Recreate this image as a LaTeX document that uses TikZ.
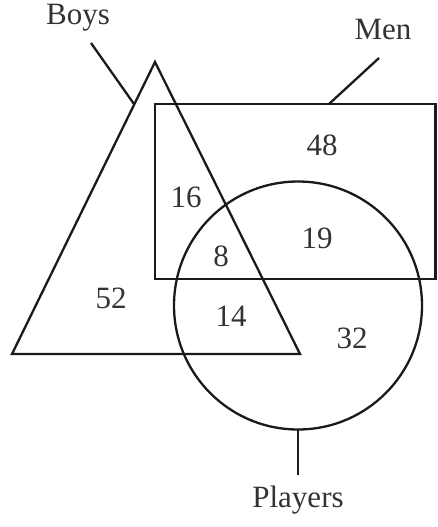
\documentclass[tikz,border=0pt]{standalone}
\usepackage{fontspec}
\setmainfont{Liberation Serif}
\usetikzlibrary{positioning,calc}
\definecolor{Ink}{HTML}{1A1A1A}
\definecolor{Label}{HTML}{333333}

\begin{document}
\begin{tikzpicture}[x=1pt, y=-1pt,
  setline/.style={Ink, line width=2.3pt, line join=miter},
  lead/.style={Ink, line width=2.3pt},
  tag/.style={font=\fontsize{31}{36}\selectfont, Label, inner sep=0pt},
  count/.style={font=\fontsize{31}{36}\selectfont, Label, inner sep=0pt}]
  \useasboundingbox (0,0) rectangle (437,527);
  % the three sets
  \draw[setline] (155,62) -- (12,354) -- (300,354) -- cycle;   % boys
  \draw[setline] (155,104) rectangle (435.5,279);              % men
  \draw[setline] (298,305.5) circle (124);                      % players
  % set labels and their leader lines
  \node[tag] (boys) at (78,18) {Boys};
  \node[tag] (men) at (383,30) {Men};
  \node[tag] (players) at (298,500) {Players};
  \coordinate (boysfoot) at (134,104);
  \coordinate (boystop) at (91,43);
  \coordinate (menfoot) at (329,104);
  \coordinate (mentop) at (379,58);
  \coordinate (playersfoot) at (298,429);
  \coordinate (playerstop) at (298,475);
  \draw[lead] (boystop) -- (boysfoot);
  \draw[lead] (mentop) -- (menfoot);
  \draw[lead] (playersfoot) -- (playerstop);
  % region counts
  \node[count] (n48) at (322,145) {48};
  \node[count] (n16) at (186,197) {16};
  \node[count] (n19) at (317,238) {19};
  \node[count] (n8) at (221,256) {8};
  \node[count] (n52) at (111,298) {52};
  \node[count] (n14) at (231,316) {14};
  \node[count] (n32) at (352,338) {32};
\end{tikzpicture}
\end{document}
